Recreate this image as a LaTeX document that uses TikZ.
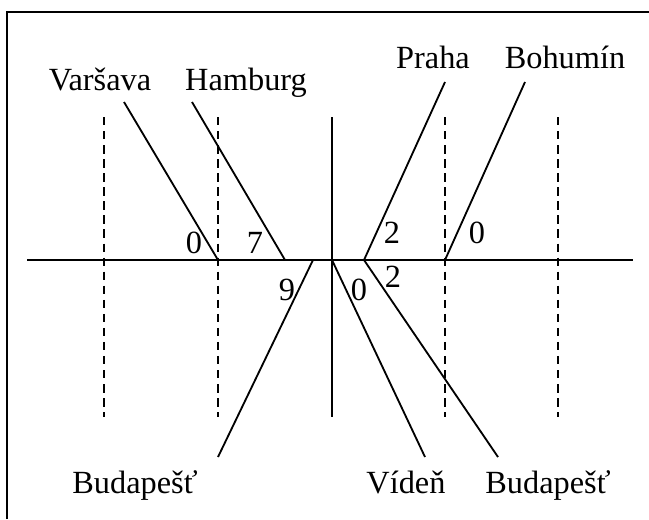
\documentclass[tikz,border=0pt]{standalone}
\usepackage{fontspec}
\setmainfont{Liberation Serif}
\usepackage{tikz}

\tikzset{
    city/.style={anchor=base,font=\fontsize{23}{26}\selectfont,inner sep=0pt},
    num/.style={anchor=base,font=\fontsize{23}{26}\selectfont,inner sep=0pt},
    track/.style={line width=1.3pt},
    zone/.style={line width=1.1pt,dashed,dash pattern=on 6pt off 4pt}
}

\begin{document}
\begin{tikzpicture}[scale=1.0]
    \useasboundingbox (0,0) rectangle (16.225,12.975);
    % frame
    \draw[line width=1.4pt] (0.175,0) -- (0.175,12.675) -- (16.225,12.675);

    % main line and zones
    \coordinate (w) at (0.675,6.475);
    \coordinate (e) at (15.825,6.475);
    \draw[track] (w) -- (e);
    \foreach \x [count=\i] in {2.6,5.45,11.125,13.95} {
        \coordinate (zt\i) at (\x,10.05);
        \coordinate (zb\i) at (\x,2.55);
        \draw[zone] (zt\i) -- (zb\i);
    }
    \coordinate (mt) at (8.3,10.05);
    \coordinate (mb) at (8.3,2.55);
    \draw[line width=1.7pt] (mt) -- (mb);

    % junctions on the main line
    \coordinate (j1) at (5.45,6.475);
    \coordinate (j2) at (7.125,6.475);
    \coordinate (j3) at (7.825,6.475);
    \coordinate (j4) at (8.3,6.475);
    \coordinate (j5) at (9.1,6.475);
    \coordinate (j6) at (11.125,6.475);

    % line ends
    \coordinate (var) at (3.1,10.425);
    \coordinate (ham) at (4.8,10.425);
    \coordinate (pra) at (11.125,10.925);
    \coordinate (boh) at (13.125,10.925);
    \coordinate (bul) at (5.45,1.55);
    \coordinate (vid) at (10.625,1.55);
    \coordinate (bur) at (12.45,1.55);

    \draw[track] (var) -- (j1);
    \draw[track] (ham) -- (j2);
    \draw[track] (bul) -- (j3);
    \draw[track] (pra) -- (j5);
    \draw[track] (boh) -- (j6);
    \draw[track] (j4) -- (vid);
    \draw[track] (j5) -- (bur);

    % names
    \node[city] (lvar) at (2.5,10.725) {Varšava};
    \node[city] (lham) at (6.15,10.725) {Hamburg};
    \node[city] (lpra) at (10.825,11.275) {Praha};
    \node[city] (lboh) at (14.125,11.275) {Bohumín};
    \node[city] (lbul) at (3.375,0.65) {Budapešť};
    \node[city] (lvid) at (10.15,0.65) {Vídeň};
    \node[city] (lbur) at (13.7,0.65) {Budapešť};

    % numbers
    \node[num] (nvar) at (4.85,6.65) {0};
    \node[num] (nham) at (6.375,6.65) {7};
    \node[num] (nbul) at (7.175,5.475) {9};
    \node[num] (npra) at (9.8,6.9) {2};
    \node[num] (nboh) at (11.925,6.9) {0};
    \node[num] (nvid) at (8.975,5.475) {0};
    \node[num] (nbur) at (9.825,5.8) {2};
\end{tikzpicture}
\end{document}
